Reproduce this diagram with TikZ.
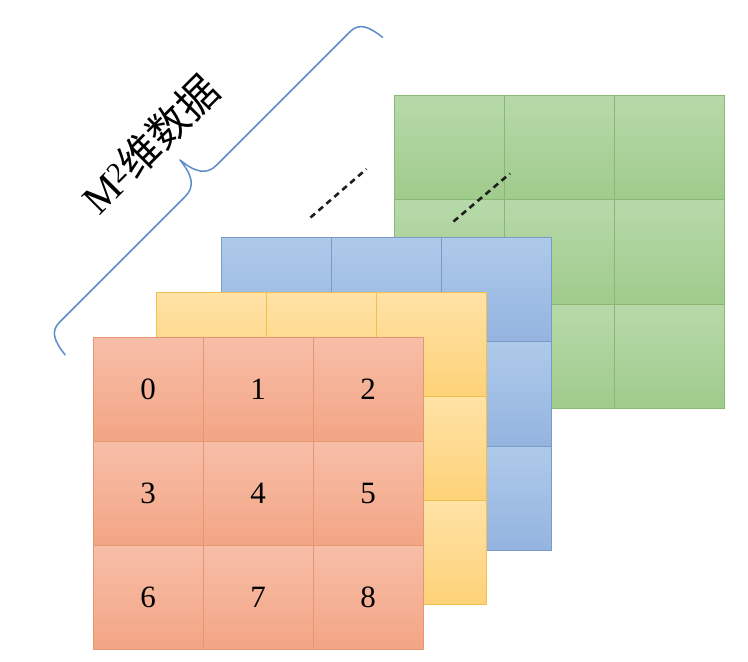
\documentclass[tikz,border=0pt]{standalone}
\usepackage{fontspec}
\setmainfont{Liberation Serif}
\newfontfamily\cjk{Noto Sans CJK SC}
\definecolor{rTop}{HTML}{F7BEA8}
\definecolor{rBot}{HTML}{F3A584}
\definecolor{rLine}{HTML}{E6976F}
\definecolor{yTop}{HTML}{FFE2A6}
\definecolor{yBot}{HTML}{FDD278}
\definecolor{yLine}{HTML}{F0BF4C}
\definecolor{bTop}{HTML}{AECAEA}
\definecolor{bBot}{HTML}{94B4E0}
\definecolor{bLine}{HTML}{7C9AC6}
\definecolor{gTop}{HTML}{B7D9AA}
\definecolor{gBot}{HTML}{9FCB8B}
\definecolor{gLine}{HTML}{8AB776}
\definecolor{braceCol}{HTML}{5B8DC9}
\tikzset{
  cell/.style={minimum width=110pt, minimum height=104.33pt, inner sep=0pt, line width=1pt, anchor=north west},
  rcell/.style={cell, top color=rTop, bottom color=rBot, draw=rLine},
  ycell/.style={cell, top color=yTop, bottom color=yBot, draw=yLine},
  bcell/.style={cell, top color=bTop, bottom color=bBot, draw=bLine},
  gcell/.style={cell, top color=gTop, bottom color=gBot, draw=gLine},
  dotline/.style={line width=2.6pt, color=black!88, dash pattern=on 6pt off 4.5pt},
  bracestyle/.style={line width=1.5pt, color=braceCol, line cap=round, line join=round},
  numtext/.style={font=\fontsize{31}{36}\selectfont}
}
\begin{document}
\begin{tikzpicture}[x=1pt,y=-1pt]
\useasboundingbox[fill=white] (0,0) rectangle (748,662);
% green layer
\foreach \r in {0,1,2}{\foreach \c in {0,1,2}{
  \node[gcell] (g\r\c) at ({393.5+110*\c},{95+104.33*\r}) {};}}
% dashed lines
\coordinate (d1a) at (310.5,217.5);
\coordinate (d1b) at (366.5,169);
\coordinate (d2a) at (453.5,221.5);
\coordinate (d2b) at (510,173.5);
\draw[dotline] (d1a) -- (d1b);
\draw[dotline] (d2a) -- (d2b);
% blue layer
\foreach \r in {0,1,2}{\foreach \c in {0,1,2}{
  \node[bcell] (b\r\c) at ({220.5+110*\c},{237+104.33*\r}) {};}}
% yellow layer
\foreach \r in {0,1,2}{\foreach \c in {0,1,2}{
  \node[ycell] (y\r\c) at ({155.5+110*\c},{291.5+104.33*\r}) {};}}
% red layer
\foreach \r in {0,1,2}{\foreach \c in {0,1,2}{
  \pgfmathtruncatemacro{\k}{3*\r+\c}
  \node[rcell, numtext] (r\r\c) at ({92.5+110*\c},{336.5+104.33*\r}) {\k};}}
% brace and label
\begin{scope}[shift={(200.85,180.85)}, x={(0.7071pt,0.7071pt)}, y={(-0.7071pt,0.7071pt)}]
  \coordinate (bl) at (-219,-27);
  \coordinate (br) at (230,-27);
  \coordinate (bp) at (0,29.5);
  \draw[bracestyle] (bl) .. controls (-217,-10) and (-213,0) .. (-200,0)
     -- (-22,0) .. controls (-8,0) and (-2,10) .. (bp)
     .. controls (2,10) and (8,0) .. (22,0)
     -- (211,0) .. controls (224,0) and (228,-10) .. (br);
  \node[rotate=45, font=\fontsize{41}{46}\selectfont, inner sep=0pt] (lbl) at (-10,62)
     {M\textsuperscript{2}{\cjk 维数据}};
\end{scope}
\end{tikzpicture}
\end{document}
